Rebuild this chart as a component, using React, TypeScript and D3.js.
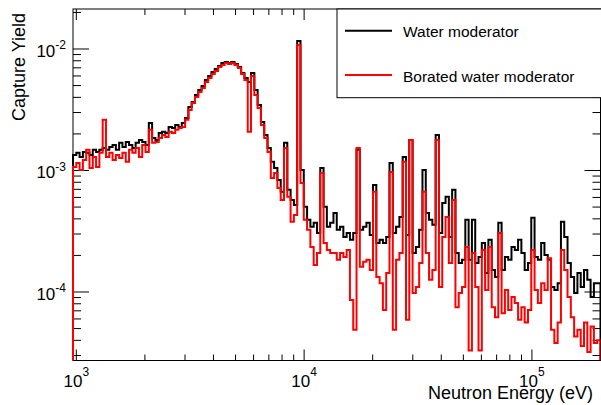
import React from "react";
import * as d3 from "d3";

// ---- data ----
const X_MIN = 967;
const X_MAX = 2.0e5;
const Y_MIN = 2.73e-5;
const Y_MAX = 0.02134;
const N_BINS = 160;
const UNIT = 1e-4; // values below are capture yield in units of 1e-4

const waterE4 = [
  13.4, 14.0, 12.9, 14.2, 14.0, 13.4, 14.8, 14.2, 14.8, 15.3,
  14.8, 15.6, 16.2, 14.8, 16.9, 15.6, 17.2, 16.2, 15.3, 16.9,
  17.8, 17.2, 16.2, 24.6, 18.5, 17.8, 20.4, 20.8, 20.4, 22.8,
  22.4, 23.7, 22.8, 24.6, 27.0, 33.3, 36.7, 41.8, 46.0, 49.6,
  55.6, 60.0, 64.7, 68.5, 72.5, 76.7, 78.2, 76.7, 78.2, 75.3,
  71.1, 63.5, 57.7, 53.5, 63.5, 46.0, 34.6, 25.1, 19.6, 15.3,
  11.8, 10.5, 8.37, 6.67, 16.9, 6.93, 5.73, 5.21, 116.4, 10.1,
  5.02, 3.93, 3.44, 3.71, 3.06, 10.5, 5.02, 3.44, 3.71, 4.47,
  3.25, 3.44, 2.84, 3.06, 2.69, 3.06, 14.8, 3.25, 3.44, 3.71,
  2.95, 7.6, 2.53, 2.69, 2.53, 2.84, 11.5, 3.06, 3.44, 4.15,
  12.9, 2.95, 17.8, 2.09, 2.35, 3.25, 10.1, 4.47, 3.93, 3.57,
  19.6, 3.06, 5.41, 6.07, 2.84, 6.93, 2.09, 1.73, 1.84, 3.93,
  1.84, 3.93, 1.73, 1.94, 2.53, 1.43, 2.69, 1.52, 1.33, 3.71,
  1.52, 1.94, 1.84, 2.35, 2.22, 2.69, 2.09, 1.52, 1.73, 4.08,
  1.94, 1.84, 2.53, 2.02, 1.84, 1.1, 1.04, 1.18, 3.78, 2.84,
  1.73, 1.33, 0.98, 1.43, 1.1, 1.52, 1.26, 0.91, 1.18, 1.18,
];

const boratedE4 = [
  10.7, 11.5, 10.1, 12.2, 14.8, 10.5, 12.9, 10.7, 14.0, 26.1,
  12.9, 14.0, 12.2, 13.4, 12.7, 14.0, 11.8, 14.8, 14.0, 15.3,
  12.9, 16.2, 14.2, 21.6, 16.9, 17.2, 18.5, 19.6, 18.9, 20.8,
  20.4, 21.6, 22.4, 22.8, 26.1, 31.5, 36.0, 40.3, 44.3, 47.8,
  53.5, 57.7, 62.3, 65.9, 71.1, 73.9, 76.7, 75.3, 76.7, 73.9,
  69.8, 62.3, 55.6, 20.8, 60.0, 41.8, 32.7, 23.7, 18.5, 14.2,
  8.68, 9.55, 7.18, 5.73, 15.3, 6.07, 3.78, 4.31, 107.9, 7.9,
  3.93, 3.25, 2.35, 1.67, 2.09, 9.55, 2.53, 2.22, 2.09, 2.09,
  1.84, 2.09, 1.94, 2.22, 0.86, 0.49, 15.3, 1.61, 1.77, 1.84,
  1.52, 6.67, 1.33, 1.18, 0.71, 1.43, 9.73, 0.49, 1.84, 2.09,
  11.8, 0.59, 17.8, 0.98, 1.1, 1.73, 6.67, 2.09, 1.26, 1.52,
  17.8, 1.1, 2.84, 4.15, 1.73, 5.73, 0.75, 0.98, 1.1, 2.35,
  0.33, 2.09, 1.1, 0.33, 2.22, 1.04, 2.35, 0.75, 0.62, 3.06,
  0.67, 1.04, 0.71, 0.91, 0.81, 0.59, 0.75, 0.56, 0.71, 2.22,
  1.04, 0.81, 1.18, 1.04, 1.9, 0.49, 0.38, 0.56, 2.22, 1.52,
  0.91, 0.62, 0.43, 0.49, 0.36, 0.56, 0.32, 0.52, 0.38, 0.4,
];

const xMajor = [1e3, 1e4, 1e5];
const xExponents = ["3", "4", "5"];
const yMajor = [1e-4, 1e-3, 1e-2];
const yExponents = ["-4", "-3", "-2"];
const legendLabels = ["Water moderator", "Borated water moderator"];
const seriesColors = ["#000000", "#ff0000"];
const xTitle = "Neutron Energy (eV)";
const yTitle = "Capture Yield";

// ---- layout ----
const W = 601;
const H = 405;
const L = 73;
const R = 600.5;
const T = 9;
const B = 360.5;
const FONT = "'Liberation Sans', Arial, Helvetica, sans-serif";

export default function App() {
  const x = d3.scaleLog().domain([X_MIN, X_MAX]).range([L, R]);
  const y = d3.scaleLog().domain([Y_MIN, Y_MAX]).range([B, T]);

  const logMin = Math.log10(X_MIN);
  const logMax = Math.log10(X_MAX);
  const edges = d3.range(N_BINS + 1).map((i) => Math.pow(10, logMin + ((logMax - logMin) * i) / N_BINS));

  const histPath = (vals: number[]) => {
    const pts: [number, number][] = [[edges[0], Y_MIN]];
    vals.forEach((v, i) => {
      pts.push([edges[i], v * UNIT]);
      pts.push([edges[i + 1], v * UNIT]);
    });
    pts.push([edges[N_BINS], Y_MIN]);
    return d3
      .line<[number, number]>()
      .x((d) => x(d[0]))
      .y((d) => y(d[1]))(pts) as string;
  };

  const xMinor: number[] = [];
  for (let e = 2; e <= 5; e++) {
    for (let k = 2; k <= 9; k++) {
      const v = k * Math.pow(10, e);
      if (v > X_MIN && v < X_MAX * 1.001) xMinor.push(v);
    }
  }
  const yMinor: number[] = [];
  for (let e = -5; e <= -2; e++) {
    for (let k = 2; k <= 9; k++) {
      const v = k * Math.pow(10, e);
      if (v > Y_MIN && v < Y_MAX) yMinor.push(v);
    }
  }

  const XMAJ = 11, XMIN = 6, YMAJ = 16, YMIN = 8;

  return (
    <svg
      width={W}
      height={H}
      viewBox={`0 0 ${W} ${H}`}
      style={{ position: "absolute", left: 0, top: 0, background: "#fff" }}
      fontFamily={FONT}
    >
      <defs>
        <clipPath id="frameClip">
          <rect x={L - 1} y={T} width={R - L + 1} height={B - T} />
        </clipPath>
      </defs>
      <rect x={0} y={0} width={W} height={H} fill="#fff" />

      {/* ticks */}
      <g stroke="#000" strokeWidth={1}>
        {xMajor.map((v) => (
          <g key={"xM" + v}>
            <line x1={x(v)} x2={x(v)} y1={B} y2={B - XMAJ} />
            <line x1={x(v)} x2={x(v)} y1={T} y2={T + XMAJ} />
          </g>
        ))}
        {xMinor.map((v) => (
          <g key={"xm" + v}>
            <line x1={x(v)} x2={x(v)} y1={B} y2={B - XMIN} />
            <line x1={x(v)} x2={x(v)} y1={T} y2={T + XMIN} />
          </g>
        ))}
        {yMajor.map((v) => (
          <g key={"yM" + v}>
            <line x1={L} x2={L + YMAJ} y1={y(v)} y2={y(v)} />
            <line x1={R} x2={R - YMAJ} y1={y(v)} y2={y(v)} />
          </g>
        ))}
        {yMinor.map((v) => (
          <g key={"ym" + v}>
            <line x1={L} x2={L + YMIN} y1={y(v)} y2={y(v)} />
            <line x1={R} x2={R - YMIN} y1={y(v)} y2={y(v)} />
          </g>
        ))}
      </g>

      {/* frame */}
      <rect x={L} y={T} width={R - L} height={B - T} fill="none" stroke="#000" strokeWidth={1} />

      {/* histograms */}
      <g clipPath="url(#frameClip)" fill="none" strokeWidth={2} strokeLinejoin="miter">
        <path d={histPath(waterE4)} stroke={seriesColors[0]} />
        <path d={histPath(boratedE4)} stroke={seriesColors[1]} />
      </g>

      {/* x tick labels */}
      {xMajor.map((v, i) => (
        <text key={"xl" + v} x={x(v)} y={386.5} textAnchor="middle" fontSize={17} fill="#000">
          <tspan>10</tspan>
          <tspan fontSize={12} dy={-10.5}>{xExponents[i]}</tspan>
        </text>
      ))}
      {/* y tick labels */}
      {yMajor.map((v, i) => (
        <text key={"yl" + v} x={66} y={y(v) + 8} textAnchor="end" fontSize={17} fill="#000">
          <tspan>10</tspan>
          <tspan fontSize={12} dy={-7.5}>{yExponents[i]}</tspan>
        </text>
      ))}

      {/* axis titles */}
      <text x={593} y={399} textAnchor="end" fontSize={18} fill="#000">
        {xTitle}
      </text>
      <text transform={`translate(25,13) rotate(-90)`} textAnchor="end" fontSize={18} fill="#000">
        {yTitle}
      </text>

      {/* legend */}
      <rect x={337} y={T} width={300} height={97.7 - T} fill="#fff" stroke="#000" strokeWidth={1} />
      {legendLabels.map((lab, i) => {
        const ly = i === 0 ? 30.7 : 75;
        return (
          <g key={lab}>
            <line x1={345} x2={392} y1={ly} y2={ly} stroke={seriesColors[i]} strokeWidth={2} />
            <text x={403} y={ly + 6.5} fontSize={15.5} fill="#000">
              {lab}
            </text>
          </g>
        );
      })}
    </svg>
  );
}
